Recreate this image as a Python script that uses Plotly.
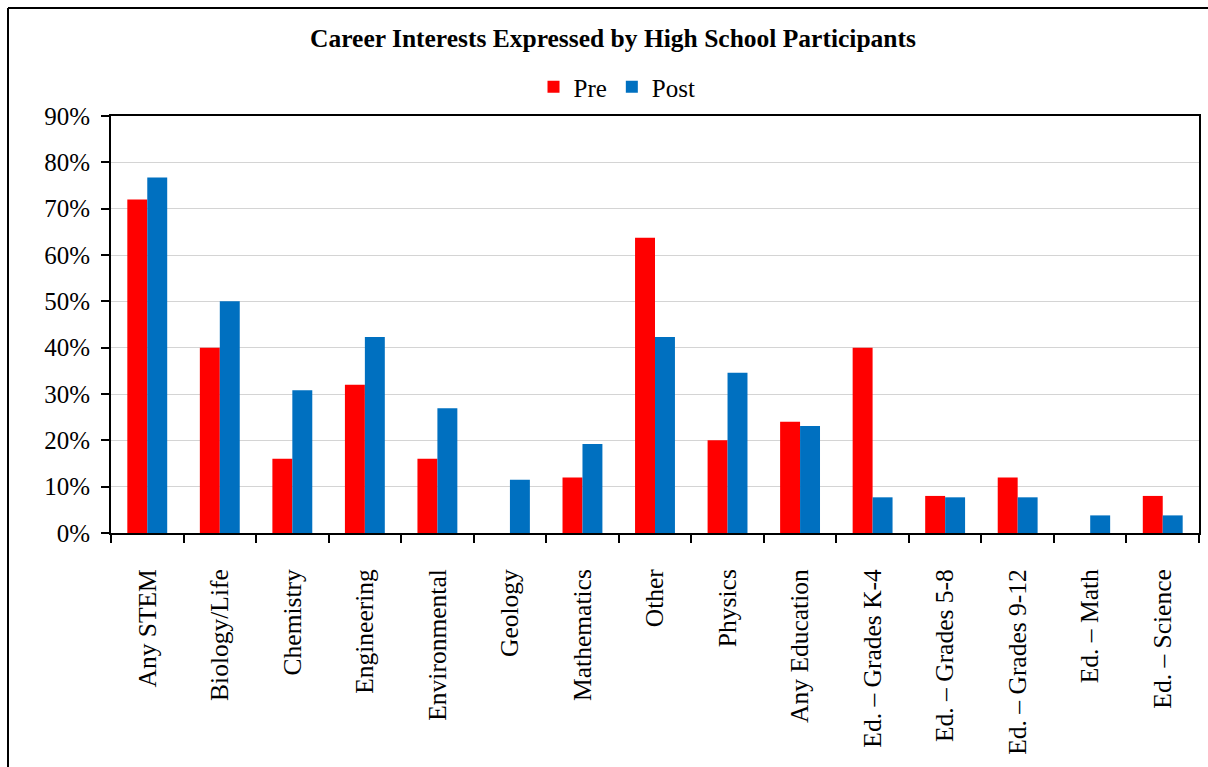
import plotly.graph_objects as go

categories = ["Any STEM", "Biology/Life", "Chemistry", "Engineering", "Environmental",
              "Geology", "Mathematics", "Other", "Physics", "Any Education",
              "Ed. \u2013 Grades K-4", "Ed. \u2013 Grades 5-8", "Ed. \u2013 Grades 9-12",
              "Ed. \u2013 Math", "Ed. \u2013 Science"]
pre = [72, 40, 16, 32, 16, 0, 12, 63.7, 20, 24, 40, 8, 12, 0, 8]
post = [76.7, 50, 30.8, 42.3, 26.9, 11.5, 19.2, 42.3, 34.6, 23.1, 7.7, 7.7, 7.7, 3.8, 3.8]
y_ticks = [0, 10, 20, 30, 40, 50, 60, 70, 80, 90]

FONT = "Liberation Serif, Times New Roman, serif"
W, H = 1208, 767
L, R, T, B = 111, 9, 116, 234
pw, ph = W - L - R, H - T - B

fig = go.Figure()
fig.add_trace(go.Bar(name="Pre", x=categories, y=pre, marker_color="#FF0000", marker_line_width=0))
fig.add_trace(go.Bar(name="Post", x=categories, y=post, marker_color="#0070C0", marker_line_width=0))

fig.update_layout(
    width=W, height=H,
    margin=dict(l=L, r=R, t=T, b=B, autoexpand=False),
    paper_bgcolor="white", plot_bgcolor="white",
    font=dict(family=FONT, color="black", size=25),
    title=dict(text="<b>Career Interests Expressed by High School Participants</b>",
               x=613 / W, xref="container", xanchor="center",
               y=1 - 38 / H, yref="container", yanchor="middle",
               font=dict(family=FONT, size=25.5, color="black")),
    legend=dict(orientation="h", x=617 / W, xref="container", xanchor="center",
                y=1 - 87 / H, yref="container", yanchor="middle",
                font=dict(family=FONT, size=25), itemwidth=30, traceorder="normal",
                bgcolor="rgba(0,0,0,0)"),
    barmode="group", bargap=0.45, bargroupgap=0,
    showlegend=True,
)
fig.update_xaxes(
    type="category", tickangle=-90, tickson="boundaries",
    ticks="outside", ticklen=8, tickwidth=1.5, tickcolor="black",
    showline=True, linecolor="black", linewidth=2, mirror=True,
    showgrid=False, tickfont=dict(family=FONT, size=25.5), ticklabelstandoff=24,
)
fig.update_yaxes(
    range=[0, 90], tickvals=y_ticks, ticktext=[f"{v}%" for v in y_ticks],
    ticks="outside", ticklen=8, tickwidth=1.5, tickcolor="black",
    showline=True, linecolor="black", linewidth=2, mirror=True,
    showgrid=True, gridcolor="#d4d4d4", gridwidth=1,
    tickfont=dict(family=FONT, size=25), ticklabelstandoff=6, zeroline=False,
)
# outer chart border: only the top and left edges fall inside the picture
bx0, by0 = (8 - L) / pw, (H - B - 8) / ph
bx1, by1 = (W + 20 - L) / pw, (H - B - (H + 20)) / ph
fig.add_shape(type="line", xref="paper", yref="paper", x0=bx0, x1=bx1, y0=by0, y1=by0,
              line=dict(color="black", width=2), layer="above")
fig.add_shape(type="line", xref="paper", yref="paper", x0=bx0, x1=bx0, y0=by0, y1=by1,
              line=dict(color="black", width=2), layer="above")

fig.write_html("out.html", config={"displayModeBar": False})
with open("out.html", encoding="utf-8") as f:
    html = f.read()
html = html.replace("<body>", '<body style="margin:0;overflow:hidden">', 1)
with open("out.html", "w", encoding="utf-8") as f:
    f.write(html)
